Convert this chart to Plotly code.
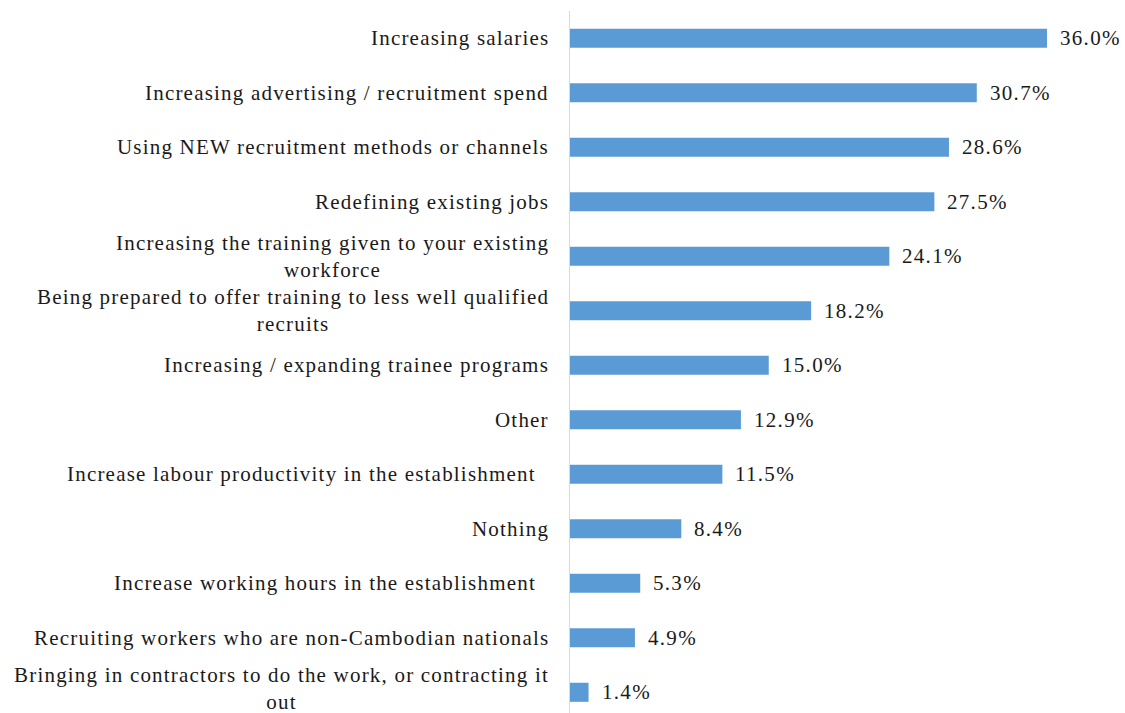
import plotly.graph_objects as go

categories = [
    "Increasing salaries",
    "Increasing advertising / recruitment spend",
    "Using NEW recruitment methods or channels",
    "Redefining existing jobs",
    "Increasing the training given to your existing<br>workforce",
    "Being prepared to offer training to less well qualified<br>recruits",
    "Increasing / expanding trainee programs",
    "Other",
    "Increase labour productivity in the establishment\u00a0\u00a0",
    "Nothing",
    "Increase working hours in the establishment\u00a0\u00a0",
    "Recruiting workers who are non-Cambodian nationals",
    "Bringing in contractors to do the work, or contracting it<br>out",
]
values = [36.0, 30.7, 28.6, 27.5, 24.1, 18.2, 15.0, 12.9, 11.5, 8.4, 5.3, 4.9, 1.4]
value_labels = [f"{v:.1f}%" for v in values]

FONT = "Liberation Serif, Times New Roman, serif"
TXT = "#1a1a1a"


def spaced(text, ls):
    return "<br>".join(f'<span style="letter-spacing:{ls}px">{p}</span>' for p in text.split("<br>"))


fig = go.Figure(go.Bar(
    x=values, y=categories, orientation="h",
    marker=dict(color="#5B9BD5", line=dict(width=0)),
    width=0.35, hoverinfo="skip",
))

annotations = []
n = len(categories)
for i, (cat, v, lab) in enumerate(zip(categories, values, value_labels)):
    annotations.append(dict(
        x=0, y=cat, xref="x", yref="y", text=spaced(cat, 1.2), showarrow=False,
        xanchor="right", yanchor="middle", align="center", xshift=-19,
        yshift=4 if i == n - 1 else 0,
        font=dict(family=FONT, size=21, color=TXT),
    ))
    annotations.append(dict(
        x=v, y=cat, xref="x", yref="y", text=spaced(lab, 1.3), showarrow=False,
        xanchor="left", yanchor="middle", xshift=11,
        font=dict(family=FONT, size=21, color=TXT),
    ))

fig.update_layout(
    width=1125, height=713,
    margin=dict(l=570, r=25, t=11, b=0, pad=0),
    paper_bgcolor="white", plot_bgcolor="white",
    showlegend=False,
    annotations=annotations,
    xaxis=dict(range=[0, 40], showgrid=False, zeroline=False, showticklabels=False,
               ticks="", showline=False, fixedrange=True),
    yaxis=dict(range=[12.38, -0.5], showgrid=False, zeroline=False, showticklabels=False,
               ticks="", showline=True, linecolor="#d9d9d9", linewidth=1, fixedrange=True),
)

fig.write_html(
    "out.html",
    config={"displayModeBar": False, "staticPlot": True},
    post_script="document.body.style.margin='0';document.body.style.overflow='hidden';",
)
